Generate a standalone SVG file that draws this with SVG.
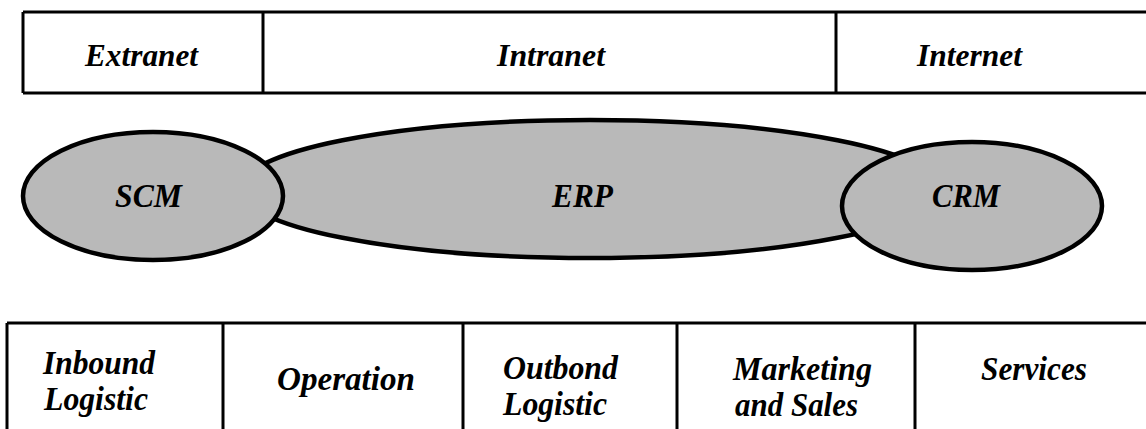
<svg xmlns="http://www.w3.org/2000/svg" width="1146" height="429" viewBox="0 0 1146 429">
<style>
.ln{stroke:#000;stroke-width:3;fill:none}
.el{fill:#b9b9b9;stroke:#000;stroke-width:4.5}
.t{font-family:"Liberation Serif","Times New Roman",serif;font-weight:bold;font-style:italic;fill:#000}
.top{font-size:31px}
.big{font-size:33px}
</style>
<rect width="1146" height="429" fill="#fff"/>
<g id="network-bar">
<path class="ln" d="M23,12 H1146 M23,93 H1146 M23,12 V93 M263,12 V93 M836,12 V93"/>
</g>
<g id="extranet"><text class="t top" x="85" y="66" textLength="113" lengthAdjust="spacingAndGlyphs">Extranet</text></g>
<g id="intranet"><text class="t top" x="497" y="66" textLength="108" lengthAdjust="spacingAndGlyphs">Intranet</text></g>
<g id="internet"><text class="t top" x="917" y="66" textLength="105" lengthAdjust="spacingAndGlyphs">Internet</text></g>
<g id="erp">
<ellipse class="el" cx="590" cy="189" rx="350" ry="69"/>
<text class="t big" x="552" y="207" textLength="61" lengthAdjust="spacingAndGlyphs">ERP</text>
</g>
<g id="scm">
<ellipse class="el" cx="153" cy="196" rx="130" ry="64"/>
<text class="t big" x="115" y="207" textLength="67" lengthAdjust="spacingAndGlyphs">SCM</text>
</g>
<g id="crm">
<ellipse class="el" cx="972" cy="206" rx="130" ry="64"/>
<text class="t big" x="932" y="207" textLength="68" lengthAdjust="spacingAndGlyphs">CRM</text>
</g>
<g id="value-chain">
<path class="ln" d="M7,323 H1146 M7,323 V429 M223,323 V429 M463,323 V429 M677,323 V429 M915,323 V429"/>
</g>
<g id="inbound">
<text class="t big" x="43" y="374" textLength="112" lengthAdjust="spacingAndGlyphs">Inbound</text>
<text class="t big" x="44" y="410" textLength="104" lengthAdjust="spacingAndGlyphs">Logistic</text>
</g>
<g id="operation"><text class="t big" x="277" y="390" textLength="138" lengthAdjust="spacingAndGlyphs">Operation</text></g>
<g id="outbond">
<text class="t big" x="503" y="379" textLength="115" lengthAdjust="spacingAndGlyphs">Outbond</text>
<text class="t big" x="503" y="415" textLength="104" lengthAdjust="spacingAndGlyphs">Logistic</text>
</g>
<g id="marketing">
<text class="t big" x="733" y="380" textLength="139" lengthAdjust="spacingAndGlyphs">Marketing</text>
<text class="t big" x="735" y="416" textLength="123" lengthAdjust="spacingAndGlyphs">and Sales</text>
</g>
<g id="services"><text class="t big" x="981" y="380" textLength="106" lengthAdjust="spacingAndGlyphs">Services</text></g>
</svg>
